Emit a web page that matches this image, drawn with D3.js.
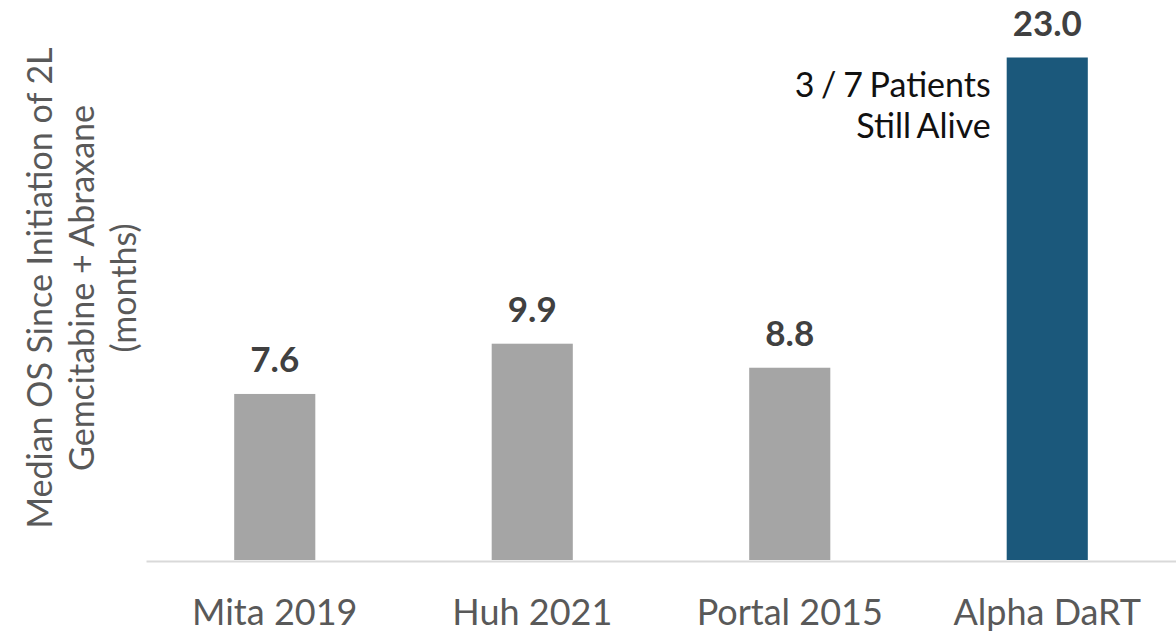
<!DOCTYPE html>
<html>
<head>
<meta charset="utf-8">
<script src="https://cdn.jsdelivr.net/npm/d3@7"></script>
<style>
  html, body { margin: 0; padding: 0; background: #fff; }
  svg { display: block; font-family: Lato, "Open Sans", sans-serif; }
</style>
</head>
<body>
<svg id="chart" width="1176" height="632"></svg>
<script>
const categories = ["Mita 2019", "Huh 2021", "Portal 2015", "Alpha DaRT"];
const values = [7.6, 9.9, 8.8, 23.0];
const barColors = ["#a5a5a5", "#a5a5a5", "#a5a5a5", "#1b587b"];
const yTitleLines = ["Median OS Since Initiation of 2L", "Gemcitabine + Abraxane", "(months)"];
const annotationLines = ["3 / 7 Patients", "Still Alive"];

const svg = d3.select("#chart");
const x = d3.scaleBand().domain(categories).range([146, 1176]).paddingInner(0.685).paddingOuter(0.3425);
const y = d3.scaleLinear().domain([0, 23]).range([560, 57.5]);

// bars
svg.selectAll("rect.bar").data(categories).enter().append("rect")
  .attr("class", "bar")
  .attr("x", d => x(d))
  .attr("width", x.bandwidth())
  .attr("y", (d, i) => y(values[i]))
  .attr("height", (d, i) => y(0) - y(values[i]))
  .attr("fill", (d, i) => barColors[i]);

// baseline axis
const xAxis = d3.axisBottom(x).tickSize(0).tickPadding(38);
const gx = svg.append("g").attr("transform", `translate(0,${y(0) + 1})`).call(xAxis);
gx.select(".domain").attr("stroke", "#d9d9d9").attr("stroke-width", 2);
gx.selectAll("text")
  .attr("font-family", "Lato, sans-serif")
  .attr("font-size", 36)
  .attr("fill", "#595959");

// value labels
svg.selectAll("text.val").data(categories).enter().append("text")
  .attr("class", "val")
  .attr("x", d => x(d) + x.bandwidth() / 2)
  .attr("y", (d, i) => y(values[i]) - 22)
  .attr("text-anchor", "middle")
  .attr("font-size", 35)
  .attr("font-weight", "bold")
  .attr("fill", "#404040")
  .text((d, i) => values[i].toFixed(1));

// annotation
const ann = svg.append("text")
  .attr("text-anchor", "end")
  .attr("font-size", 34)
  .attr("word-spacing", -2)
  .attr("fill", "#111111");
annotationLines.forEach((t, i) => {
  ann.append("tspan").attr("x", x("Alpha DaRT") - 16).attr("y", 97 + i * 41).text(t);
});

// y title
const yt = svg.append("text")
  .attr("transform", "translate(0,288) rotate(-90)")
  .attr("text-anchor", "middle")
  .attr("font-size", 34)
  .attr("fill", "#595959");
yTitleLines.forEach((t, i) => {
  yt.append("tspan").attr("x", 0).attr("y", 52 + i * 42).text(t);
});
</script>
</body>
</html>
